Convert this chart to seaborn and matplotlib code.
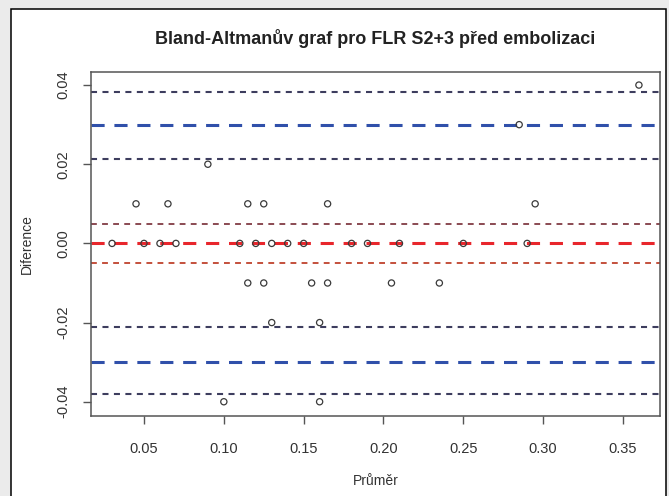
"""Bland-Altmanův graf pro FLR S2+3 před embolizací (R-style vzhled)"""

import matplotlib
matplotlib.use('Agg')
import matplotlib.pyplot as plt
from matplotlib.patches import Rectangle
import seaborn as sns

# data
prumer = [0.045, 0.065, 0.115, 0.125, 0.165, 0.295,
          0.09,
          0.03, 0.05, 0.06, 0.07, 0.11, 0.12, 0.13, 0.14, 0.15, 0.18, 0.19, 0.21, 0.25, 0.29,
          0.115, 0.125, 0.155, 0.165, 0.205, 0.235,
          0.13, 0.16,
          0.10, 0.16,
          0.285, 0.36]
diference = [0.01, 0.01, 0.01, 0.01, 0.01, 0.01,
             0.02,
             0.0, 0.0, 0.0, 0.0, 0.0, 0.0, 0.0, 0.0, 0.0, 0.0, 0.0, 0.0, 0.0, 0.0,
             -0.01, -0.01, -0.01, -0.01, -0.01, -0.01,
             -0.02, -0.02,
             -0.04, -0.04,
             0.03, 0.04]

# úrovně čar: průměr rozdílů, meze shody a jejich intervaly spolehlivosti
stred = 0.0001
stred_ci = [0.0050, -0.0049]
meze = [0.0299, -0.0299]
meze_ci = [0.0383, 0.0212, -0.0212, -0.0381]

x_ticks = [0.05, 0.10, 0.15, 0.20, 0.25, 0.30, 0.35]
y_ticks = [-0.04, -0.02, 0.00, 0.02, 0.04]

sns.set_style('white')
plt.rcParams['font.family'] = ['Liberation Sans', 'DejaVu Sans']

fig = plt.figure(figsize=(6.69, 4.96), dpi=100, facecolor='#ebebeb')
ramecek = Rectangle((11/669, -0.01), 655/669, 1 - 9/496 + 0.01, transform=fig.transFigure,
                    facecolor='white', edgecolor='black', linewidth=1.1, zorder=-10)
fig.add_artist(ramecek)
ax = fig.add_axes([91/669, 80/496, 569/669, 344/496])
ax.set_facecolor('white')

# čáry
for y in meze_ci:
    ax.axhline(y, color='#3d3d5e', lw=1.5, dashes=(2.9, 2.6), zorder=1)
for y in meze:
    ax.axhline(y, color='#3050aa', lw=2.2, dashes=(4.3, 3.2), zorder=1)
ax.axhline(stred_ci[0], color='#8a4a52', lw=1.4, dashes=(3.0, 2.7), zorder=1)
ax.axhline(stred_ci[1], color='#c4503c', lw=1.4, dashes=(3.0, 2.7), zorder=1)
ax.axhline(stred, color='#e8262c', lw=2.2, dashes=(4.3, 3.2), zorder=1)

sns.scatterplot(x=prumer, y=diference, ax=ax, marker='o', s=20,
                facecolor='none', edgecolor='#3a3a3a', linewidth=0.9, zorder=3)

ax.set_xlim(0.0168, 0.3732)
ax.set_ylim(-0.0436, 0.0433)
ax.set_xticks(x_ticks)
ax.set_xticklabels([f'{v:.2f}' for v in x_ticks])
ax.set_yticks(y_ticks)
ax.set_yticklabels([f'{v:.2f}' for v in y_ticks], rotation=90, va='center')
ax.tick_params(axis='both', direction='out', length=6, width=1.0, color='#555555',
               labelsize=10.5, labelcolor='#333333', left=True, bottom=True)
ax.tick_params(axis='x', pad=13)
ax.tick_params(axis='y', pad=9)
for s in ax.spines.values():
    s.set_color('#555555')
    s.set_linewidth(1.1)

ax.set_xlabel('Průměr', fontsize=10, color='#333333', labelpad=13)
ax.set_ylabel('Diference', fontsize=10, color='#333333', labelpad=16)
ax.set_title('Bland-Altmanův graf pro FLR S2+3 před embolizaci', fontsize=13,
             fontweight='bold', color='#222222', pad=20)

fig.savefig('out.png', dpi=100, facecolor=fig.get_facecolor())
